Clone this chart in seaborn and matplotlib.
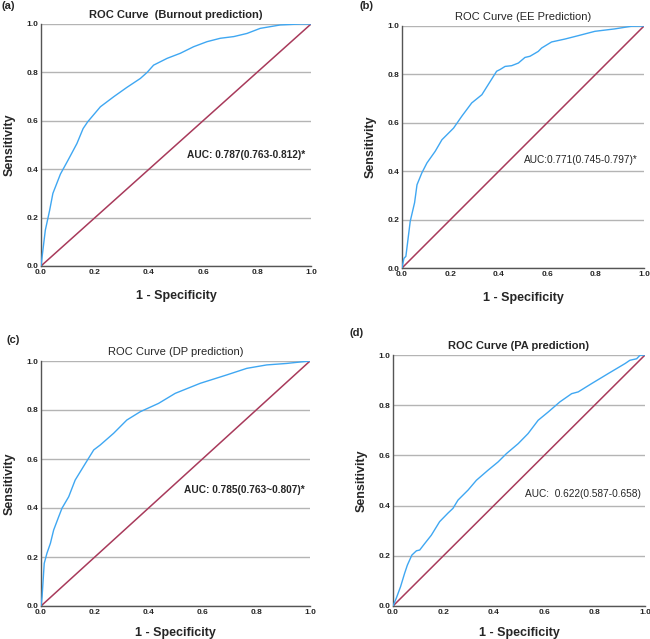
import pandas as pd
import seaborn as sns
import matplotlib.pyplot as plt

# ROC curve points (1 - specificity, sensitivity)
burnout_fpr = [0.0, 0.016, 0.032, 0.044, 0.072, 0.10, 0.133, 0.156, 0.173, 0.22, 0.27, 0.318,
               0.368, 0.393, 0.417, 0.467, 0.516, 0.565, 0.615, 0.664, 0.714, 0.763, 0.812,
               0.886, 0.96, 1.0]
burnout_tpr = [0.0, 0.148, 0.23, 0.30, 0.38, 0.437, 0.506, 0.568, 0.596, 0.658, 0.70, 0.738,
               0.775, 0.80, 0.83, 0.858, 0.879, 0.906, 0.927, 0.941, 0.948, 0.961, 0.982,
               0.996, 1.0, 1.0]

ee_fpr = [0.0, 0.008, 0.016, 0.034, 0.052, 0.062, 0.082, 0.103, 0.137, 0.165, 0.213, 0.247,
          0.288, 0.33, 0.391, 0.405, 0.426, 0.453, 0.481, 0.508, 0.529, 0.563, 0.577, 0.618,
          0.673, 0.728, 0.797, 0.879, 0.948, 1.0]
ee_tpr = [0.0, 0.04, 0.048, 0.193, 0.27, 0.344, 0.393, 0.434, 0.482, 0.53, 0.578, 0.627,
          0.682, 0.716, 0.813, 0.82, 0.833, 0.836, 0.847, 0.87, 0.875, 0.895, 0.909, 0.934,
          0.946, 0.96, 0.978, 0.988, 0.999, 1.0]

dp_fpr = [0.0, 0.004, 0.012, 0.022, 0.035, 0.047, 0.066, 0.078, 0.103, 0.127, 0.165, 0.196,
          0.22, 0.27, 0.319, 0.369, 0.437, 0.499, 0.592, 0.69, 0.765, 0.839, 0.913, 0.938, 1.0]
dp_tpr = [0.0, 0.038, 0.174, 0.215, 0.256, 0.31, 0.365, 0.399, 0.446, 0.514, 0.582, 0.637,
          0.657, 0.705, 0.759, 0.793, 0.827, 0.868, 0.909, 0.943, 0.97, 0.984, 0.99, 0.993, 1.0]

pa_fpr = [0.0, 0.013, 0.03, 0.046, 0.057, 0.075, 0.093, 0.106, 0.126, 0.152, 0.185, 0.219,
          0.238, 0.258, 0.298, 0.331, 0.377, 0.417, 0.45, 0.497, 0.536, 0.576, 0.616, 0.662,
          0.709, 0.735, 0.788, 0.854, 0.921, 0.94, 0.967, 0.98, 1.0]
pa_tpr = [0.0, 0.031, 0.077, 0.13, 0.163, 0.203, 0.22, 0.223, 0.249, 0.282, 0.336, 0.371,
          0.389, 0.422, 0.462, 0.501, 0.541, 0.574, 0.607, 0.647, 0.687, 0.74, 0.773, 0.813,
          0.846, 0.853, 0.886, 0.926, 0.966, 0.979, 0.985, 0.999, 1.0]

panel_letters = ["(a)", "(b)", "(c)", "(d)"]
titles = ["ROC Curve  (Burnout prediction)", "ROC Curve (EE Prediction)",
          "ROC Curve (DP prediction)", "ROC Curve (PA prediction)"]
auc_texts = ["AUC: 0.787(0.763-0.812)*", "AUC:0.771(0.745-0.797)*",
             "AUC: 0.785(0.763~0.807)*", "AUC:  0.622(0.587-0.658)"]
ticks = [0.0, 0.2, 0.4, 0.6, 0.8, 1.0]

curves = [(burnout_fpr, burnout_tpr), (ee_fpr, ee_tpr), (dp_fpr, dp_tpr), (pa_fpr, pa_tpr)]

sns.set_style("white")
plt.rcParams['font.family'] = ['Liberation Sans', 'DejaVu Sans']

W, H = 650, 639
fig = plt.figure(figsize=(6.5, 6.39), dpi=100)

# axes boxes in pixels: left, top, right, bottom
boxes = [(41, 24, 311, 266), (402, 26, 644, 268), (41, 361, 310, 606), (393, 355, 645, 606)]
auc_pos = [(0.54, 0.46), (0.505, 0.445), (0.532, 0.474), (0.523, 0.445)]
auc_bold = [True, False, True, False]
title_bold = [True, False, False, True]
xlabel_pad = [10, 10, 8, 8]
letter_pos = [(2, 6), (360, 6), (6, 340), (350, 333)]

blue = "#3FA7F2"
maroon = "#A83A5B"

for i, (fpr, tpr) in enumerate(curves):
    l, t, r, b = boxes[i]
    ax = fig.add_axes([l / W, 1 - b / H, (r - l) / W, (b - t) / H])
    df = pd.DataFrame({"fpr": fpr, "tpr": tpr})
    ax.axline((0, 0), (1, 1), color=maroon, lw=1.1, zorder=2)
    sns.lineplot(data=df, x="fpr", y="tpr", ax=ax, color=blue, lw=1.0,
                 estimator=None, sort=False, zorder=3)
    ax.set_xlim(0, 1)
    ax.set_ylim(0, 1)
    ax.set_xticks(ticks)
    ax.set_yticks(ticks)
    ax.set_xticklabels([f"{v:.1f}" for v in ticks])
    ax.set_yticklabels([f"{v:.1f}" for v in ticks])
    ax.tick_params(labelsize=6, length=0, pad=2)
    for lab in ax.get_xticklabels() + ax.get_yticklabels():
        lab.set_fontweight("bold")
    ax.yaxis.grid(True, color="#B4B4B4", lw=1.0)
    ax.set_axisbelow(True)
    for s in ["top", "right"]:
        ax.spines[s].set_visible(False)
    for s in ["left", "bottom"]:
        ax.spines[s].set_color("#555555")
        ax.spines[s].set_linewidth(1.0)
    ax.set_xlabel("1 - Specificity", fontsize=9, fontweight="bold", labelpad=xlabel_pad[i])
    ax.set_ylabel("Sensitivity", fontsize=9, fontweight="bold", labelpad=8)
    ax.set_title(titles[i], fontsize=8, fontweight="bold" if title_bold[i] else "normal", pad=4)
    ax.text(auc_pos[i][0], auc_pos[i][1], auc_texts[i], fontsize=7.3,
            fontweight="bold" if auc_bold[i] else "normal", va="center", ha="left")
    fig.text(letter_pos[i][0] / W, 1 - letter_pos[i][1] / H, panel_letters[i],
             fontsize=8, fontweight="bold", va="center", ha="left")

fig.savefig("out.png", dpi=100)
